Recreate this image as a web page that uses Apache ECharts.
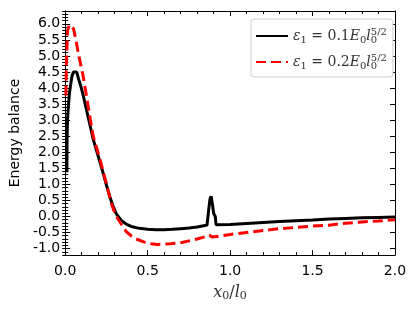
<!DOCTYPE html>
<html><head><meta charset="utf-8">
<script src="https://cdn.jsdelivr.net/npm/echarts@6/dist/echarts.min.js"></script>
<style>html,body{margin:0;padding:0;background:#fff}#c{width:415px;height:311px}</style>
</head><body><div id="c"></div>
<script>
// Series 1: eps1 = 0.1 E0 l0^{5/2}
var x1 = [0.010,0.011,0.014,0.020,0.026,0.040,0.050,0.060,0.070,0.080,0.095,0.110,0.130,0.150,0.170,0.190,0.210,0.230,0.250,0.270,0.290,0.310,0.340,0.370,0.400,0.450,0.500,0.550,0.600,0.650,0.700,0.750,0.800,0.840,0.860,0.870,0.878,0.885,0.890,0.895,0.900,0.905,0.910,0.915,0.920,1.000,1.100,1.200,1.300,1.400,1.500,1.600,1.700,1.800,1.900,2.000];
var y1 = [1.38,2.40,3.00,3.50,3.85,4.35,4.50,4.55,4.50,4.30,4.05,3.75,3.30,2.85,2.40,2.05,1.70,1.35,0.98,0.62,0.32,0.08,-0.12,-0.24,-0.31,-0.37,-0.40,-0.41,-0.41,-0.40,-0.38,-0.36,-0.33,-0.29,-0.27,0.20,0.55,0.63,0.60,0.30,0.10,0.06,0.00,-0.26,-0.27,-0.25,-0.22,-0.19,-0.16,-0.13,-0.11,-0.08,-0.06,-0.04,-0.03,-0.02];
// Series 2: eps1 = 0.2 E0 l0^{5/2}
var x2 = [0.004,0.008,0.015,0.025,0.036,0.050,0.065,0.080,0.110,0.140,0.160,0.170,0.190,0.210,0.230,0.250,0.280,0.300,0.320,0.350,0.370,0.400,0.430,0.480,0.520,0.560,0.600,0.640,0.700,0.750,0.800,0.850,0.875,0.890,0.900,0.950,1.000,1.100,1.200,1.300,1.400,1.500,1.600,1.700,1.800,1.900,2.000];
var y2 = [3.77,5.00,5.80,5.97,6.00,5.85,5.50,5.07,4.34,3.40,2.78,2.50,2.15,1.80,1.40,1.02,0.40,0.12,-0.08,-0.32,-0.47,-0.60,-0.70,-0.80,-0.85,-0.87,-0.86,-0.85,-0.82,-0.76,-0.70,-0.63,-0.58,-0.64,-0.66,-0.60,-0.56,-0.50,-0.44,-0.38,-0.34,-0.30,-0.27,-0.21,-0.17,-0.14,-0.10];
var seriesNames = ['s1','s2'];
var xRange = {min:0, max:2, interval:0.5};
var yRange = {min:-1.2, max:6.4};
var yMajorTicks = [-1.0,-0.5,0.0,0.5,1.0,1.5,2.0,2.5,3.0,3.5,4.0,4.5,5.0,5.5,6.0];

function pairs(xs, ys){ return xs.map(function(x,i){ return [x, ys[i]]; }); }

var tickFont = {fontFamily:'DejaVu Sans', fontSize:14, color:'#000'};
var serif = 'DejaVu Serif';
var rich = {
  it:{fontFamily:serif, fontStyle:'italic', fontSize:14, color:'#333'},
  n:{fontFamily:serif, fontSize:14, color:'#333'},
  sub:{fontFamily:serif, fontSize:10, color:'#333', verticalAlign:'bottom', padding:[8,0,0,0]},
  sub0:{fontFamily:serif, fontSize:10, color:'#333', verticalAlign:'bottom', padding:[8,0,0,0], width:0},
  sup:{fontFamily:serif, fontSize:10, color:'#333', verticalAlign:'top', padding:[0,0,8,0]}
};

var chart = echarts.init(document.getElementById('c'), null, {renderer:'canvas'});
var lineOn = {show:true, onZero:false, lineStyle:{color:'#000', width:1}};
var majorTick = {show:true, inside:true, length:5, lineStyle:{color:'#000'}};
var minorTickX = {show:true, splitNumber:5, length:3, lineStyle:{color:'#000'}};

function yMajor(pos, withLabel){
  var a = {type:'value', min:yRange.min, max:yRange.max, interval:0.5, position:pos,
    axisLine:lineOn, splitLine:{show:false},
    axisTick:Object.assign({customValues:yMajorTicks}, majorTick),
    axisLabel:withLabel ? Object.assign({margin:5, customValues:yMajorTicks,
      formatter:function(v){ return v.toFixed(1); }}, tickFont) : {show:false}
  };
  if (withLabel) {
    a.name = 'Energy balance'; a.nameLocation = 'middle'; a.nameGap = 37;
    a.nameTextStyle = {fontFamily:'DejaVu Sans', fontSize:14, color:'#000'};
  }
  return a;
}
function yMinor(pos){
  return {type:'value', min:yRange.min, max:yRange.max, interval:0.1, position:pos,
    axisLine:{show:false}, splitLine:{show:false}, axisLabel:{show:false},
    axisTick:{show:true, inside:true, length:3, lineStyle:{color:'#000'}}};
}

chart.setOption({
  animation:false,
  backgroundColor:'#fff',
  grid:{left:65, right:20, top:11, bottom:56},
  legend:{
    left:251, top:19, width:136, height:56,
    orient:'vertical', itemWidth:32, itemHeight:10, itemGap:8,
    padding:[8,6,6,4],
    borderColor:'#d0d0d0', borderWidth:1, borderRadius:3, backgroundColor:'#fff',
    data:seriesNames,
    itemStyle:{opacity:0},
    formatter:function(name){
      var v = name === 's1' ? '0.1' : '0.2';
      return '{it|ε}{sub|1}{n| = '+v+'}{it|E}{sub|0}{it|l}{sub0|0}{sup|5/2}';
    },
    textStyle:{rich:rich}
  },
  xAxis:[
    {type:'value', min:xRange.min, max:xRange.max, interval:xRange.interval, position:'bottom',
      axisLine:lineOn, axisTick:majorTick, minorTick:minorTickX, splitLine:{show:false},
      axisLabel:Object.assign({margin:9, formatter:function(v){return v.toFixed(1);}}, tickFont),
      name:'{it|x}{sub|0}{n|/}{it|l}{sub|0}', nameLocation:'middle', nameGap:28,
      nameTextStyle:{rich:{
        it:{fontFamily:serif, fontStyle:'italic', fontSize:16, color:'#333'},
        n:{fontFamily:serif, fontSize:16, color:'#333'},
        sub:{fontFamily:serif, fontSize:11, color:'#333', verticalAlign:'bottom', padding:[8,0,0,0]}
      }}},
    {type:'value', min:xRange.min, max:xRange.max, interval:xRange.interval, position:'top',
      axisLine:lineOn, axisTick:majorTick, minorTick:minorTickX, splitLine:{show:false},
      axisLabel:{show:false}}
  ],
  yAxis:[ yMajor('left', true), yMajor('right', false), yMinor('left'), yMinor('right') ],
  series:[
    {name:'s1', type:'line', data:pairs(x1,y1), showSymbol:false, symbol:'none', smooth:false,
      lineStyle:{color:'#000', width:3}, itemStyle:{color:'#000'}},
    {name:'s2', type:'line', data:pairs(x2,y2), showSymbol:false, symbol:'none', smooth:false,
      lineStyle:{color:'#ff0000', width:3, type:[10,5]}, itemStyle:{color:'#ff0000'}}
  ]
});
</script></body></html>
